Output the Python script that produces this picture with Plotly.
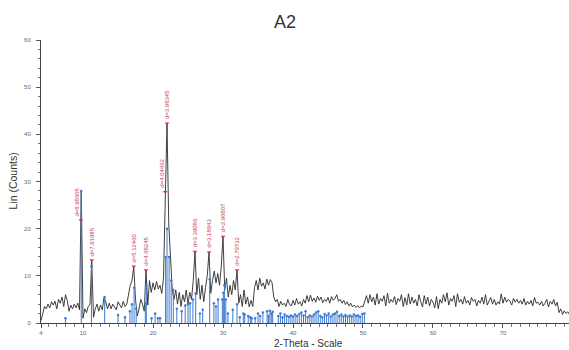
import numpy as np
import plotly.graph_objects as go

# 2-theta grid (step 0.25 deg) and measured counts
two_theta = np.round(np.arange(4.0, 79.51, 0.25), 2)
counts = [
    0.5, 2.0, 3.5, 3.0,   4.0, 3.2, 4.5, 3.8,   4.6, 3.0, 5.0, 4.2,   5.5, 3.5, 6.0, 4.8,
    2.5, 3.8, 3.0, 4.0,   3.2, 4.2, 2.8, 28.0,  1.0, 3.0, 2.2, 3.5,   4.0, 13.3, 1.2, 3.0,
    4.0, 2.5, 3.8, 2.8,   5.5, 4.5, 3.0, 4.2,   3.0, 4.0, 3.5, 2.8,   4.5, 3.8, 3.2, 4.6,
    3.5, 4.0, 6.0, 8.0,   9.0, 12.0, 5.0, 1.5,  3.0, 5.0, 4.0, 2.5,   11.2, 3.8, 9.0, 6.5,
    8.5, 7.0, 8.8, 7.2,   8.0, 6.3, 9.5, 27.8,  42.3, 21.0, 12.5, 7.0, 5.0, 7.0, 4.0, 6.5,
    3.5, 6.0, 4.5, 7.0,   4.0, 6.5, 5.0, 9.0,   15.1, 6.0, 9.5, 5.0,  8.0, 4.5, 7.5, 10.0,
    15.0, 6.3, 9.0, 11.0, 8.5, 10.5, 8.0, 12.0, 18.3, 7.0, 9.5, 5.5,  8.0, 6.0, 9.0, 7.0,
    11.2, 4.2, 6.0, 3.5,  7.0, 4.0, 5.5, 3.4,   4.8, 3.5, 7.5, 9.0,   7.0, 9.5, 7.8, 8.5,
    7.2, 9.3, 8.0, 9.2,   8.6, 5.5, 4.5, 5.0,   3.5, 4.6, 3.8, 4.2,   3.5, 5.0, 4.0, 3.6,
    4.8, 3.8, 5.2, 4.0,   4.5, 3.6, 5.0, 4.2,   5.8, 4.5, 5.9, 4.6,   5.3, 4.4, 5.7, 4.8,
    5.5, 4.3, 5.0, 4.6,   5.4, 4.2, 5.6, 4.8,   5.2, 6.0, 4.6, 5.0,   4.2, 4.8, 3.9, 4.5,
    3.6, 4.2, 3.4, 3.8,   3.3, 3.7, 3.2, 3.6,   3.4, 4.5, 5.8, 4.2,   6.0, 4.5, 5.5, 3.8,
    6.2, 4.0, 5.2, 4.6,   5.8, 3.6, 6.3, 4.2,   5.0, 4.4, 5.6, 3.9,   5.2, 4.6, 6.0, 3.5,
    5.4, 3.8, 6.2, 4.0,   5.5, 4.2, 5.0, 3.6,   6.0, 4.5, 3.4, 5.8,   4.0, 5.5, 3.6, 5.0,
    4.4, 3.2, 5.6, 3.0,   5.0, 4.2, 6.0, 4.5,   6.4, 3.8, 5.2, 4.6,   5.8, 3.5, 6.2, 4.4,
    5.0, 4.0, 5.6, 4.2,   4.8, 3.8, 5.4, 4.6,   5.0, 3.6, 4.8, 4.2,   5.5, 4.0, 6.0, 3.8,
    4.6, 5.4, 4.0, 5.0,   3.8, 4.5, 4.0, 6.2,   4.2, 5.5, 4.4, 5.0,   4.6, 3.8, 5.2, 4.4,
    5.0, 4.2, 4.8, 4.0,   5.2, 3.8, 4.6, 4.0,   4.8, 3.6, 5.4, 4.2,   4.4, 3.8, 4.6, 3.6,
    4.2, 5.0, 3.4, 4.6,   4.0, 5.0, 3.6, 4.4,   2.2, 3.0, 1.8, 2.6,   2.0, 2.4, 1.8,
]

# reference phase stick pattern
stick_x = [7.5, 9.75, 11.2, 13.1, 15.0, 16.0, 16.7, 17.0, 17.3, 17.6, 18.9, 19.05, 19.8, 20.3, 20.7,
           21.0, 21.8, 22.0, 22.3, 22.6, 22.9, 23.4, 24.1, 24.6, 25.0, 25.3, 25.7, 26.1, 26.7,
           27.1, 28.1, 28.7, 29.0, 29.3, 29.9, 30.05, 30.2, 30.4, 30.7, 31.4, 32.0, 32.4, 32.9,
           33.1, 33.6, 33.9, 34.1, 34.6, 35.0, 35.3, 35.7, 36.3, 36.5, 36.7, 36.9, 37.1, 37.9,
           38.2, 38.5, 38.8, 39.1, 39.4, 39.7, 40.0, 40.3, 40.6, 40.9, 41.2, 41.5, 41.8, 42.1,
           42.4, 42.7, 43.0, 43.3, 43.6, 43.9, 44.2, 44.5, 44.8, 45.1, 45.4, 45.7, 46.0, 46.3,
           46.6, 46.9, 47.2, 47.5, 47.8, 48.1, 48.4, 48.7, 49.0, 49.3, 49.6, 49.9, 50.2]
stick_h = [1.0, 28.0, 12.0, 5.5, 1.7, 1.2, 2.5, 4.0, 7.5, 3.0, 4.2, 8.0, 1.0, 2.0, 1.0,
           1.0, 14.0, 20.0, 14.0, 9.0, 7.0, 3.0, 2.5, 3.7, 4.0, 4.2, 5.0, 6.3, 2.0,
           2.8, 9.3, 4.2, 3.5, 5.0, 5.0, 6.4, 8.0, 5.0, 2.0, 2.8, 4.0, 1.2, 2.0,
           1.8, 1.5, 1.2, 1.0, 1.0, 2.0, 1.5, 2.2, 2.5, 1.5, 2.6, 2.0, 2.4, 1.5,
           2.0, 1.2, 1.8, 1.5, 1.3, 1.6, 1.4, 1.8, 1.5, 1.9, 2.2, 1.6, 2.5, 1.2,
           1.6, 1.4, 1.8, 2.2, 2.5, 1.5, 1.2, 1.9, 1.6, 2.0, 1.4, 1.8, 2.0, 2.4,
           1.5, 1.8, 1.4, 1.7, 1.3, 1.6, 1.4, 1.8, 1.5, 1.6, 1.3, 1.9, 2.0]

# labelled peaks
peak_x = [9.7, 11.25, 17.25, 19.0, 21.75, 22.0, 26.0, 28.0, 30.0, 32.0]
peak_y = [21.8, 13.3, 12.0, 11.2, 27.8, 42.3, 15.1, 15.0, 18.3, 11.2]
peak_labels = ["d=8.98605", "d=7.91985", "d=5.12460", "d=4.68245", "d=4.04662",
               "d=3.98345", "d=3.39086", "d=3.18943", "d=2.96807", "d=2.79732"]
label_dx = [-4, 0, 0, 0, -3, 0, 0, 0, 0, 0]

x_tickvals = [4, 10, 20, 30, 40, 50, 60, 70]
y_tickvals = [0, 10, 20, 30, 40, 50, 60]

BLUE = "#3b7bd0"
RED = "#c8385a"

fig = go.Figure()

fig.add_trace(go.Scatter(x=two_theta, y=counts, mode="lines",
                         line=dict(color="#2a2a2a", width=0.9), hoverinfo="skip"))

sx, sy = [], []
for xv, hv in zip(stick_x, stick_h):
    sx += [xv, xv, None]
    sy += [0, hv, None]
fig.add_trace(go.Scatter(x=sx, y=sy, mode="lines", line=dict(color=BLUE, width=1.0),
                         hoverinfo="skip"))
fig.add_trace(go.Scatter(x=stick_x, y=stick_h, mode="markers",
                         marker=dict(color=BLUE, size=2.5), hoverinfo="skip"))

fig.add_trace(go.Scatter(x=peak_x, y=peak_y, mode="markers",
                         marker=dict(color=RED, size=4, symbol="triangle-down"),
                         hoverinfo="skip"))

for xv, yv, t, dx in zip(peak_x, peak_y, peak_labels, label_dx):
    fig.add_annotation(x=xv, y=yv, text=t, textangle=-90, showarrow=False,
                       xanchor="center", yanchor="bottom", yshift=2, xshift=dx,
                       font=dict(size=6, color=RED, family="Arial"))

fig.add_annotation(x=0.5, y=1.0, xref="paper", yref="paper", text="A2",
                   showarrow=False, xanchor="center", yanchor="middle",
                   xshift=-20, yshift=18,
                   font=dict(size=18, color="#333333", family="Arial"))
fig.add_annotation(x=0, y=0.5, xref="paper", yref="paper", text="Lin (Counts)",
                   textangle=-90, showarrow=False, xanchor="center", yanchor="middle",
                   xshift=-29, yshift=0,
                   font=dict(size=10.5, color="#333333", family="Arial"))
fig.add_annotation(x=0.5, y=0, xref="paper", yref="paper", text="2-Theta - Scale",
                   showarrow=False, xanchor="center", yanchor="middle",
                   xshift=3, yshift=-20,
                   font=dict(size=10, color="#333333", family="Arial"))

fig.update_layout(
    width=569, height=350,
    margin=dict(l=41, r=0, t=40, b=27),
    paper_bgcolor="white", plot_bgcolor="white",
    showlegend=False,
    xaxis=dict(range=[4, 79.43], tickmode="array", tickvals=x_tickvals,
               ticktext=[str(v) for v in x_tickvals],
               showgrid=False, zeroline=False, showline=True, linecolor="#444444",
               linewidth=1, ticks="outside", ticklen=4, tickcolor="#555555",
               tickfont=dict(size=6, color="#666666", family="Arial"),
               minor=dict(ticks="outside", ticklen=2.5, tickcolor="#777777",
                          tickmode="linear", tick0=0, dtick=1.25)),
    yaxis=dict(range=[0, 60], tickmode="array", tickvals=y_tickvals,
               showgrid=False, zeroline=False, showline=True, linecolor="#444444",
               linewidth=1, ticks="outside", ticklen=4, tickcolor="#555555",
               ticklabelstandoff=4,
               tickfont=dict(size=6, color="#666666", family="Arial"),
               minor=dict(ticks="outside", ticklen=2.5, tickcolor="#777777",
                          tickmode="linear", tick0=0, dtick=2)),
)

fig.write_html("out.html")
